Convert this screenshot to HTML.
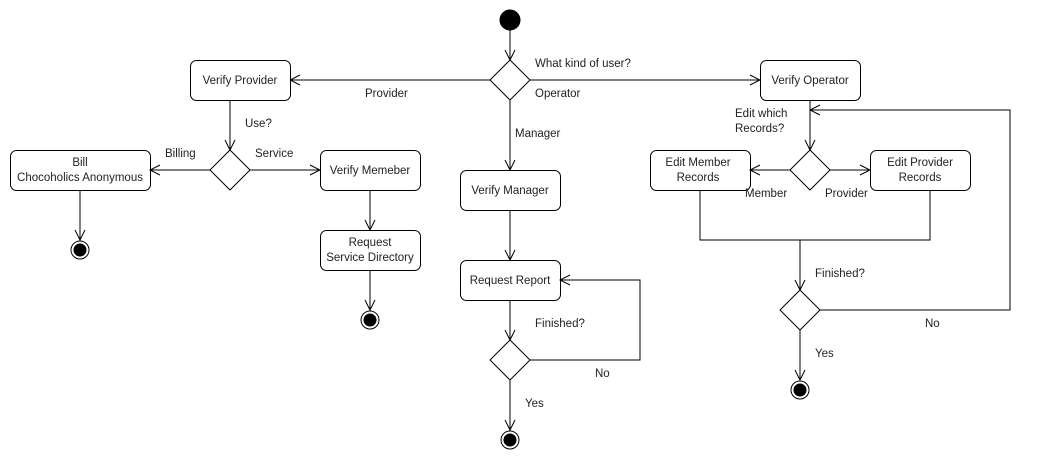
<!DOCTYPE html>
<html><head><style>
html,body{margin:0;padding:0;background:#fff;}
svg text{font-family:"Liberation Sans",sans-serif;font-size:11.5px;fill:#222;}
</style></head><body>
<svg width="1040" height="460" viewBox="0 0 1040 460" xmlns="http://www.w3.org/2000/svg">
<defs>
<marker id="a" markerWidth="12" markerHeight="12" refX="11" refY="6" orient="auto" markerUnits="userSpaceOnUse">
<path d="M1,1 L11,6 L1,11" fill="none" stroke="#000" stroke-width="1"/>
</marker>
</defs>
<g fill="none" stroke="#000" stroke-width="1">
<!-- start -->
<circle cx="510" cy="20" r="10" fill="#000"/>
<line x1="510" y1="30" x2="510" y2="60" marker-end="url(#a)"/>
<path d="M510,60 L530,80 L510,100 L490,80 Z" fill="#fff"/>
<line x1="490" y1="80" x2="290" y2="80" marker-end="url(#a)"/>
<line x1="530" y1="80" x2="760" y2="80" marker-end="url(#a)"/>
<line x1="510" y1="100" x2="510" y2="170" marker-end="url(#a)"/>
<!-- boxes -->
<rect x="190.5" y="60.5" width="100" height="40" rx="6" fill="#fff"/>
<rect x="760.5" y="60.5" width="100" height="40" rx="6" fill="#fff"/>
<rect x="460.5" y="170.5" width="100" height="40" rx="6" fill="#fff"/>
<rect x="460.5" y="260.5" width="100" height="40" rx="6" fill="#fff"/>
<rect x="10.5" y="150.5" width="140" height="40" rx="6" fill="#fff"/>
<rect x="320.5" y="150.5" width="100" height="40" rx="6" fill="#fff"/>
<rect x="320.5" y="230.5" width="100" height="40" rx="6" fill="#fff"/>
<rect x="650.5" y="150.5" width="100" height="40" rx="6" fill="#fff"/>
<rect x="870.5" y="150.5" width="100" height="40" rx="6" fill="#fff"/>
<!-- manager -->
<line x1="510" y1="210" x2="510" y2="260" marker-end="url(#a)"/>
<line x1="510" y1="300" x2="510" y2="340" marker-end="url(#a)"/>
<path d="M510,340 L530,360 L510,380 L490,360 Z" fill="#fff"/>
<polyline points="530,360 640,360 640,280 560,280" marker-end="url(#a)"/>
<line x1="510" y1="380" x2="510" y2="430" marker-end="url(#a)"/>
<circle cx="510" cy="440" r="9"/><circle cx="510" cy="440" r="6" fill="#000"/>
<!-- provider -->
<line x1="230" y1="100" x2="230" y2="150" marker-end="url(#a)"/>
<path d="M230,150 L250,170 L230,190 L210,170 Z" fill="#fff"/>
<line x1="210" y1="170" x2="150" y2="170" marker-end="url(#a)"/>
<line x1="250" y1="170" x2="320" y2="170" marker-end="url(#a)"/>
<line x1="80" y1="190" x2="80" y2="240" marker-end="url(#a)"/>
<circle cx="80" cy="250" r="9"/><circle cx="80" cy="250" r="6" fill="#000"/>
<line x1="370" y1="190" x2="370" y2="230" marker-end="url(#a)"/>
<line x1="370" y1="270" x2="370" y2="310" marker-end="url(#a)"/>
<circle cx="370" cy="320" r="9"/><circle cx="370" cy="320" r="6" fill="#000"/>
<!-- operator -->
<line x1="810" y1="100" x2="810" y2="150" marker-end="url(#a)"/>
<path d="M810,150 L830,170 L810,190 L790,170 Z" fill="#fff"/>
<line x1="790" y1="170" x2="750" y2="170" marker-end="url(#a)"/>
<line x1="830" y1="170" x2="870" y2="170" marker-end="url(#a)"/>
<polyline points="700,190 700,240 930,240 930,190"/>
<line x1="800" y1="240" x2="800" y2="290" marker-end="url(#a)"/>
<path d="M800,290 L820,310 L800,330 L780,310 Z" fill="#fff"/>
<polyline points="820,310 1010,310 1010,110 810,110" marker-end="url(#a)"/>
<line x1="800" y1="330" x2="800" y2="380" marker-end="url(#a)"/>
<circle cx="800" cy="390" r="9"/><circle cx="800" cy="390" r="6" fill="#000"/>
</g>
<g text-anchor="middle">
<text x="240" y="84">Verify Provider</text>
<text x="810" y="84">Verify Operator</text>
<text x="510" y="194">Verify Manager</text>
<text x="510" y="284">Request Report</text>
<text x="80" y="166">Bill</text>
<text x="80" y="181">Chocoholics Anonymous</text>
<text x="370" y="174">Verify Memeber</text>
<text x="370" y="246">Request</text>
<text x="370" y="261">Service Directory</text>
<text x="698" y="166">Edit Member</text>
<text x="698" y="181">Records</text>
<text x="920" y="166">Edit Provider</text>
<text x="920" y="181">Records</text>
</g>
<g>
<text x="535" y="67">What kind of user?</text>
<text x="535" y="97">Operator</text>
<text x="365" y="97">Provider</text>
<text x="515" y="137">Manager</text>
<text x="245" y="127">Use?</text>
<text x="165" y="157">Billing</text>
<text x="255" y="157">Service</text>
<text x="535" y="327">Finished?</text>
<text x="595" y="377">No</text>
<text x="525" y="407">Yes</text>
<text x="735" y="117">Edit which</text>
<text x="735" y="132">Records?</text>
<text x="745" y="197">Member</text>
<text x="825" y="197">Provider</text>
<text x="815" y="277">Finished?</text>
<text x="925" y="327">No</text>
<text x="815" y="357">Yes</text>
</g>
</svg>
</body></html>
